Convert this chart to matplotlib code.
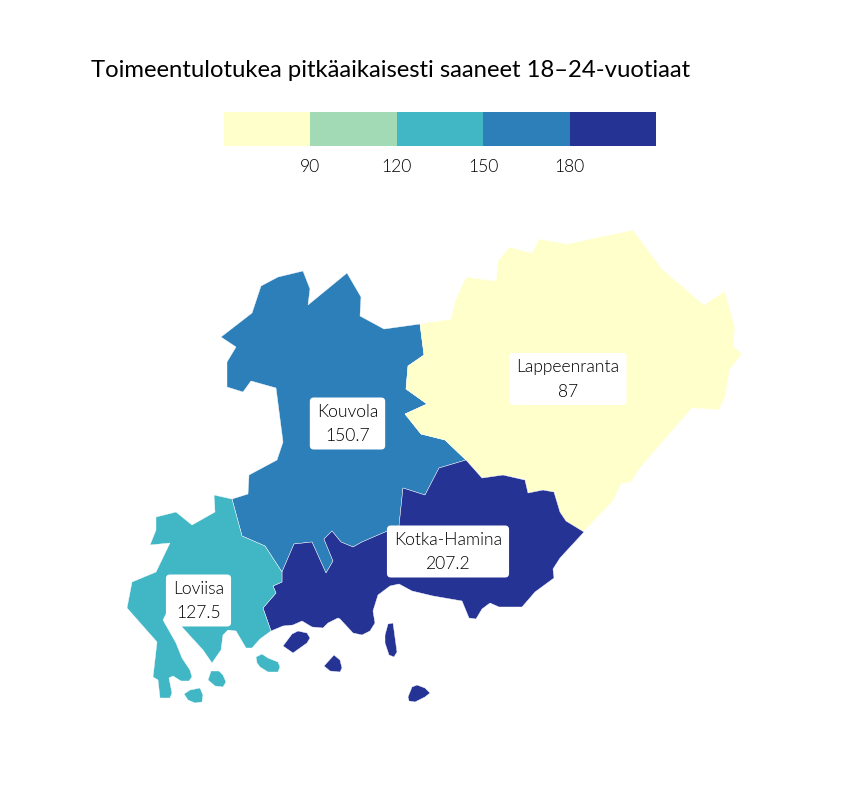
import matplotlib
matplotlib.use('Agg')
import matplotlib.pyplot as plt
from matplotlib import font_manager as fm
from matplotlib.colors import ListedColormap, BoundaryNorm
from matplotlib.patches import FancyBboxPatch

plt.rcParams['font.family'] = ['Lato', 'DejaVu Sans']

# pick the real Lato Light file, weight='light' lands on the hairline cut
light_files = [f.fname for f in fm.fontManager.ttflist if f.fname.endswith('Lato-Light.ttf')]
light = fm.FontProperties(fname=light_files[0]) if light_files else fm.FontProperties(family='Lato')

title = 'Toimeentulotukea pitkäaikaisesti saaneet 18–24-vuotiaat'
regions = ['Kouvola', 'Lappeenranta', 'Kotka-Hamina', 'Loviisa']
values = [150.7, 87, 207.2, 127.5]
breaks = [60, 90, 120, 150, 180, 210]
tick_values = [90, 120, 150, 180]
colors = ['#ffffcc', '#a1dab4', '#41b6c4', '#2c7fb8', '#253494']

# outlines, in map units
kouvola = [(221, 337), (252, 313), (261, 286), (278, 277), (303, 271), (310, 289), (308, 305),
           (347, 273), (361, 297), (360, 316), (384, 329), (420, 324), (424, 355), (408, 366),
           (406, 389), (427, 404), (405, 414), (421, 434), (445, 440), (466, 460), (439, 468),
           (425, 495), (403, 488), (399, 526), (362, 542), (353, 547), (341, 542), (332, 531),
           (324, 539), (333, 561), (326, 573), (312, 542), (294, 544), (282, 572), (265, 546),
           (242, 536), (232, 499), (248, 494), (249, 475), (277, 460), (283, 442), (276, 388),
           (251, 381), (243, 392), (227, 387), (227, 362), (236, 347)]
lappeenranta = [(420, 324), (451, 319), (455, 301), (466, 277), (496, 281), (498, 261), (509, 247),
                (532, 253), (539, 239), (567, 244), (633, 230), (662, 269), (704, 305), (725, 291),
                (735, 328), (733, 346), (742, 354), (730, 369), (725, 397), (719, 410), (692, 408),
                (640, 468), (631, 482), (621, 484), (613, 501), (583, 532), (564, 520), (559, 509),
                (554, 492), (543, 490), (528, 493), (525, 479), (503, 475), (482, 478), (466, 460),
                (445, 440), (421, 434), (405, 414), (427, 404), (406, 389), (408, 366), (424, 355)]
kotka = [(466, 460), (482, 478), (503, 475), (525, 480), (528, 493), (543, 490), (554, 492),
         (560, 512), (566, 521), (584, 532), (560, 558), (553, 569), (554, 578), (535, 592),
         (522, 607), (499, 607), (490, 603), (482, 609), (476, 619), (469, 618), (462, 601),
         (433, 596), (412, 591), (399, 584), (390, 586), (378, 595), (373, 611), (375, 623),
         (370, 631), (362, 635), (353, 633), (340, 619), (338, 618), (328, 623), (323, 628),
         (312, 627), (302, 621), (293, 625), (283, 626), (271, 631), (263, 608), (276, 593),
         (273, 586), (282, 582), (282, 572), (294, 544), (312, 542), (326, 573), (333, 561),
         (324, 539), (332, 531), (341, 542), (353, 547), (362, 542), (399, 526), (403, 488),
         (425, 495), (439, 468)]
kotka_islands = [
    [(283, 646), (292, 634), (298, 631), (307, 633), (310, 638), (307, 643), (293, 653)],
    [(324, 666), (334, 655), (340, 660), (342, 668), (340, 672), (330, 671)],
    [(388, 624), (393, 623), (394, 630), (397, 652), (394, 657), (389, 655), (385, 643), (385, 635)],
    [(408, 697), (412, 687), (417, 685), (425, 688), (430, 693), (425, 697), (415, 702), (409, 701)],
]
loviisa = [(232, 499), (214, 495), (215, 512), (192, 525), (176, 512), (156, 517), (156, 530),
           (150, 545), (170, 543), (156, 572), (132, 582), (127, 608), (157, 642), (153, 677),
           (158, 680), (160, 698), (170, 698), (172, 693), (169, 678), (173, 676), (181, 681),
           (189, 681), (192, 677), (190, 670), (182, 658), (176, 643), (163, 620), (167, 612),
           (178, 612), (182, 627), (203, 650), (212, 663), (221, 650), (223, 635), (228, 630),
           (236, 631), (246, 648), (252, 648), (260, 639), (271, 631), (263, 608), (276, 593),
           (273, 586), (282, 582), (282, 572), (265, 546), (242, 536)]
loviisa_islands = [
    [(256, 657), (262, 654), (268, 658), (278, 662), (280, 667), (278, 672), (268, 672), (260, 667), (257, 663)],
    [(211, 671), (219, 671), (223, 675), (226, 682), (223, 687), (215, 686), (208, 680)],
    [(184, 694), (190, 690), (200, 688), (203, 695), (202, 702), (195, 703), (188, 700)],
]
shapes = [[kouvola], [lappeenranta], [kotka] + kotka_islands, [loviisa] + loviisa_islands]
label_points = [(347.5, 423.5), (568, 379), (448, 551.5), (198.5, 600.5)]

cmap = ListedColormap(colors)
norm = BoundaryNorm(breaks, cmap.N)

fig = plt.figure(figsize=(8.64, 7.92), dpi=100)
ax = fig.add_axes([0, 0, 1, 1])
ax.set_xlim(0, 864)
ax.set_ylim(792, 0)
ax.axis('off')

for parts, value in zip(shapes, values):
    for part in parts:
        xs, ys = zip(*part)
        ax.fill(xs, ys, facecolor=cmap(norm(value)), edgecolor='white', linewidth=0.3)

renderer = fig.canvas.get_renderer()
for name, value, (x, y) in zip(regions, values, label_points):
    label = ax.text(x, y + 0.5, f'{name}\n{value:g}', ha='center', va='center', fontproperties=light,
                    fontsize=12.6, color='black', linespacing=1.62, zorder=4)
    # box is as wide as the text plus a margin, but a fixed height
    half_w = label.get_window_extent(renderer).width / 2 + 7
    ax.add_patch(FancyBboxPatch((x - half_w + 3, y - 23), 2 * half_w - 6, 46,
                                boxstyle='round,pad=3,rounding_size=4',
                                fc='white', ec='none', zorder=3))

ax.text(91, 77, title, fontsize=17.16, color='black', ha='left', va='baseline')

# legend strip
lax = fig.add_axes([224 / 864, 1 - 146 / 792, 432 / 864, 34 / 792])
for i in range(len(colors)):
    lax.barh(0, breaks[i + 1] - breaks[i], left=breaks[i], height=1, color=colors[i], linewidth=0)
lax.set_xlim(breaks[0], breaks[-1])
lax.set_ylim(-0.5, 0.5)
lax.set_yticks([])
lax.set_xticks(tick_values)
lax.tick_params(axis='x', length=0, pad=9)
for label in lax.get_xticklabels():
    label.set_fontproperties(light)
    label.set_fontsize(12.6)
for spine in lax.spines.values():
    spine.set_visible(False)

fig.savefig('out.png', dpi=100)
